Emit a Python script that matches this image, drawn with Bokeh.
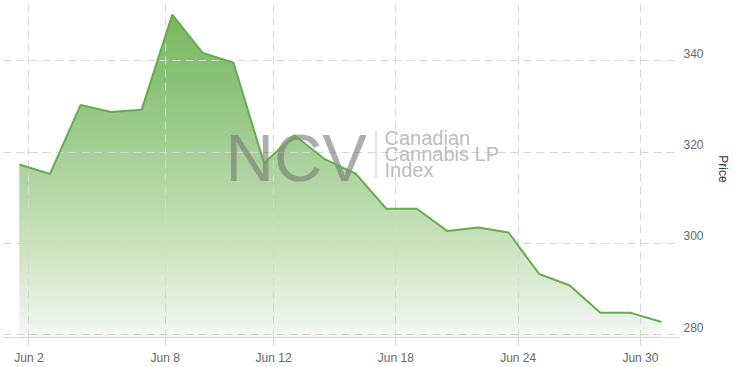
import numpy as np
import pandas as pd
from bokeh.plotting import figure
from bokeh.models import Range1d, FixedTicker, Label, BoxAnnotation
from bokeh.embed import file_html
from bokeh.resources import INLINE

# ---- data ----
dates = ["2020-06-01", "2020-06-02", "2020-06-03", "2020-06-04", "2020-06-05",
         "2020-06-08", "2020-06-09", "2020-06-10", "2020-06-11", "2020-06-12",
         "2020-06-15", "2020-06-16", "2020-06-17", "2020-06-18", "2020-06-19",
         "2020-06-22", "2020-06-23", "2020-06-24", "2020-06-25", "2020-06-26",
         "2020-06-29", "2020-06-30"]
prices = [317.3, 315.2, 330.3, 328.8, 329.3, 350.1, 341.7, 339.6, 317.6, 323.7,
          318.4, 315.3, 307.6, 307.6, 302.7, 303.5, 302.4, 293.3, 290.8, 284.8,
          284.8, 282.8]
tick_dates = ["2020-06-02", "2020-06-08", "2020-06-12", "2020-06-18", "2020-06-24", "2020-06-30"]
tick_labels = ["Jun 2", "Jun 8", "Jun 12", "Jun 18", "Jun 24", "Jun 30"]
price_ticks = [280, 300, 320, 340]

# ordinal (trading-day) x positions; date ticks interpolated between points
t_pts = np.asarray(pd.to_datetime(dates) + pd.Timedelta(hours=16, minutes=30),
                   dtype="datetime64[ns]").astype("int64").astype(float)
t_ticks = np.asarray(pd.to_datetime(tick_dates), dtype="datetime64[ns]").astype("int64").astype(float)
idx = np.arange(len(dates), dtype=float)
tick_pos = [round(float(v), 4) for v in np.interp(t_ticks, t_pts, idx)]

X0, X1 = -0.52, 21.59
Y0, Y1 = 279.4, 353.2
LABEL_SHIFT = 1.66

FONT = "Liberation Sans"

p = figure(width=734, height=367, output_backend="svg", toolbar_location=None,
           x_range=Range1d(X0, X1), y_range=Range1d(Y0, Y1),
           y_axis_location="right",
           min_border_left=3, min_border_right=55, min_border_top=0, min_border_bottom=30)
p.outline_line_color = None
p.background_fill_color = "white"
p.border_fill_color = "white"
p.extra_y_ranges = {"lbl": Range1d(Y0 - LABEL_SHIFT, Y1 - LABEL_SHIFT)}

# x axis
xt = FixedTicker(ticks=tick_pos)
xa = p.xaxis[0]
xa.ticker = xt
xa.major_label_overrides = {tp: lab for tp, lab in zip(tick_pos, tick_labels)}
xa.axis_line_color = "#ccd6eb"
xa.major_tick_line_color = "#ccd6eb"
xa.major_tick_in = 0
xa.major_tick_out = 8
xa.minor_tick_line_color = None
xa.major_label_text_color = "#666666"
xa.major_label_text_font = FONT
xa.major_label_text_font_size = "12px"
xa.major_label_standoff = 5

# right y axis (labels)
ya = p.yaxis[0]
ya.y_range_name = "lbl"
ya.ticker = FixedTicker(ticks=price_ticks)
ya.axis_line_color = None
ya.major_tick_line_color = None
ya.minor_tick_line_color = None
ya.major_tick_in = 0
ya.major_tick_out = 0
ya.major_label_standoff = 4
ya.major_label_text_color = "#666666"
ya.major_label_text_font = FONT
ya.major_label_text_font_size = "12px"
ya.axis_label = "Price"
ya.axis_label_text_font = FONT
ya.axis_label_text_font_style = "normal"
ya.axis_label_text_font_size = "12px"
ya.axis_label_text_color = "#333333"
ya.axis_label_standoff = 9

# grids
p.xgrid.ticker = xt
p.ygrid.ticker = FixedTicker(ticks=price_ticks)
for g in (p.xgrid, p.ygrid):
    g.grid_line_color = "#d6d6d6"
    g.grid_line_dash = "8 5"
    g.grid_line_width = 1
    g.level = "guide"

# area fill with vertical gradient (green base + stacked white veils)
p.varea(x=idx, y1=Y0 - 1, y2=prices, fill_color="#70b458", fill_alpha=1.0)
N = 70
H = Y1 - Y0
amax = 0.96
tops, alphas = [], []
A_prev = 0.0
for k in range(1, N + 1):
    A_k = amax * (k - 0.5) / N
    alphas.append(1 - (1 - A_k) / (1 - A_prev))
    tops.append(Y1 - (k - 1) * H / N)
    A_prev = A_k
p.quad(left=X0, right=X1, bottom=Y0 - 1, top=tops, fill_color="white",
       fill_alpha=alphas, line_color=None)

line = p.line(idx, prices, line_color="#67ac4e", line_width=2)
line.level = "overlay"

# watermark
p.add_layout(Label(x=222, y=180, x_units="screen", y_units="screen", text="NCV",
                   text_font=FONT, text_font_size="67px", text_color="#777777",
                   text_alpha=0.6, text_baseline="alphabetic"))
p.add_layout(BoxAnnotation(left=372, right=373, top=207, bottom=159,
                           left_units="screen", right_units="screen",
                           top_units="screen", bottom_units="screen",
                           fill_color="#cccccc", fill_alpha=1.0, line_color=None))
for txt, yy in (("Canadian", 200), ("Cannabis LP", 184), ("Index", 168)):
    p.add_layout(Label(x=381, y=yy, x_units="screen", y_units="screen", text=txt,
                       text_font=FONT, text_font_size="20px", text_color="#b3b3b3",
                       text_alpha=0.9, text_baseline="alphabetic"))

open("out.html", "w").write(file_html(p, INLINE))
